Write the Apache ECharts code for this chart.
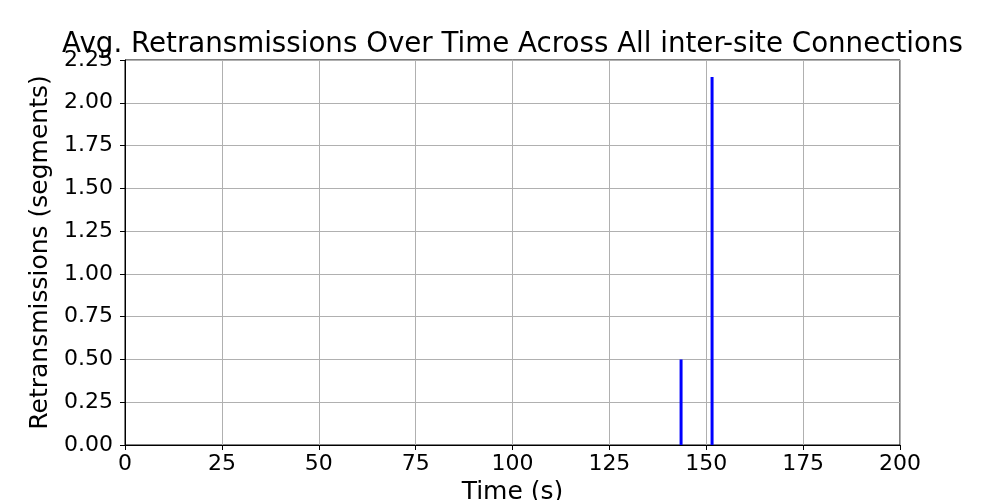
<!DOCTYPE html>
<html>
<head>
<meta charset="utf-8">
<script src="https://cdn.jsdelivr.net/npm/echarts@6/dist/echarts.min.js"></script>
<style>html,body{margin:0;padding:0;background:#fff}#c{width:1000px;height:500px}</style>
</head>
<body>
<div id="c"></div>
<script>
const times = [143.5, 151.5];
const retrans = [0.5, 2.15];
const xTicks = [0, 25, 50, 75, 100, 125, 150, 175, 200];
const yTicks = [0, 0.25, 0.5, 0.75, 1.0, 1.25, 1.5, 1.75, 2.0, 2.25];

const chart = echarts.init(document.getElementById('c'), null, {renderer: 'canvas'});
const font = 'DejaVu Sans';
chart.setOption({
  animation: false,
  backgroundColor: '#fff',
  title: {
    text: 'Avg. Retransmissions Over Time Across All inter-site Connections',
    left: 507.5, top: 26, textAlign: 'center',
    textStyle: {fontFamily: font, fontSize: 27.7, fontWeight: 'normal', color: '#000'}
  },
  grid: {left: 125, right: 100, top: 60, bottom: 55, show: true, borderColor: '#000', borderWidth: 1,
    containLabel: false, outerBoundsMode: 'none'},
  xAxis: {
    type: 'value', min: xTicks[0], max: xTicks[xTicks.length - 1], interval: 25,
    name: 'Time (s)', nameLocation: 'middle', nameGap: 32,
    nameTextStyle: {fontFamily: font, fontSize: 25, color: '#000'},
    axisLine: {show: true, onZero: false, lineStyle: {color: '#000', width: 1}},
    axisTick: {show: true, length: 5, lineStyle: {color: '#000'}},
    axisLabel: {fontFamily: font, fontSize: 22, color: '#000', margin: 8},
    splitLine: {show: true, lineStyle: {color: '#b0b0b0', width: 1}}
  },
  yAxis: {
    type: 'value', min: yTicks[0], max: yTicks[yTicks.length - 1], interval: 0.25,
    name: 'Retransmissions (segments)', nameLocation: 'middle', nameGap: 61,
    nameTextStyle: {fontFamily: font, fontSize: 25, color: '#000'},
    axisLine: {show: true, lineStyle: {color: '#000', width: 1}},
    axisTick: {show: true, length: 5, lineStyle: {color: '#000'}},
    axisLabel: {fontFamily: font, fontSize: 22, color: '#000', margin: 12,
      formatter: v => v.toFixed(2)},
    splitLine: {show: true, lineStyle: {color: '#b0b0b0', width: 1}}
  },
  series: [{
    type: 'bar',
    data: times.map((t, i) => [t, retrans[i]]),
    barWidth: 3,
    itemStyle: {color: '#0000ff'}
  }]
});
</script>
</body>
</html>
